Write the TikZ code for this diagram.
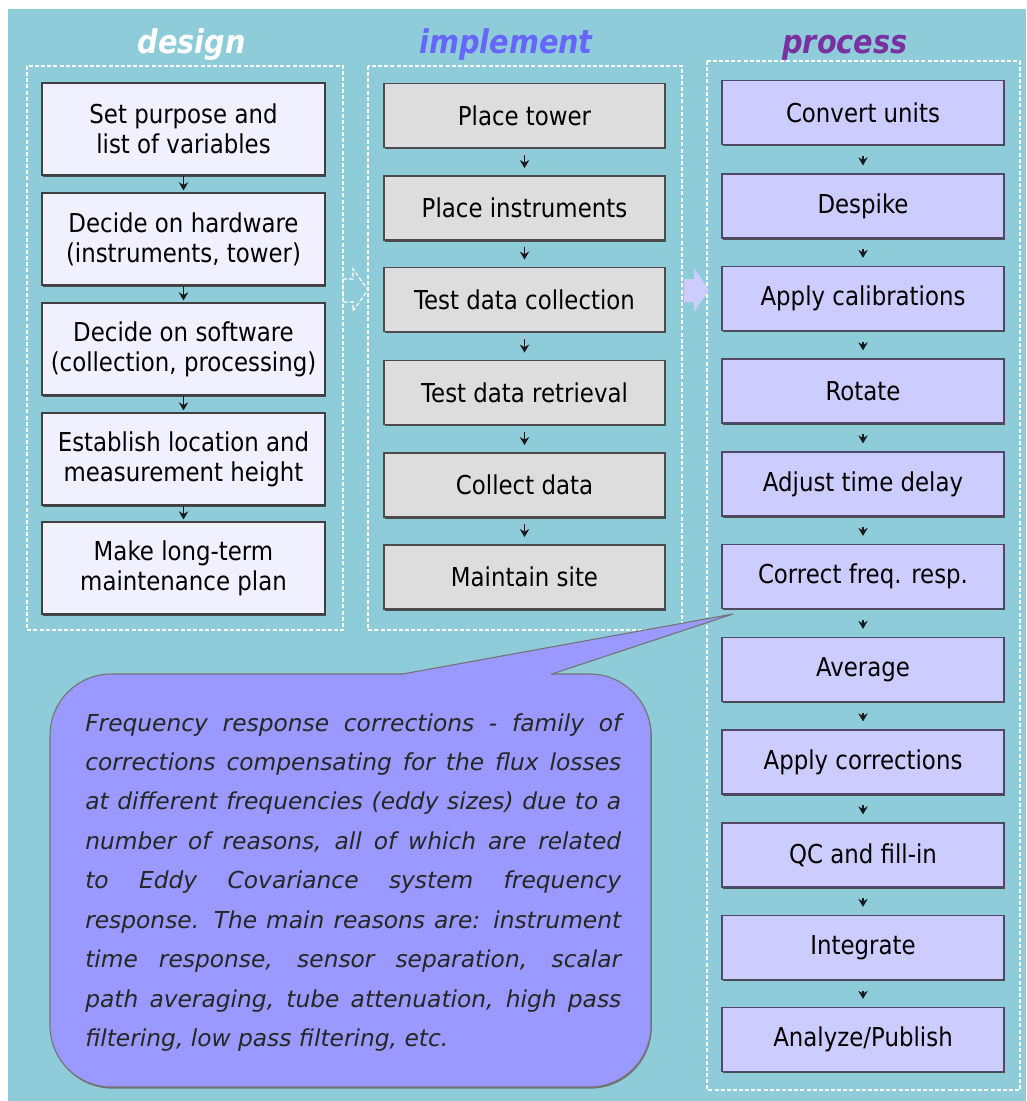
\documentclass[tikz,border=0pt]{standalone}
\usepackage{fontspec}
\setmainfont{DejaVu Sans}[FakeStretch=0.88]
\newfontfamily\callfont{DejaVu Sans}
\usetikzlibrary{arrows.meta,shadows}
\definecolor{bg}{RGB}{143,204,217}
\definecolor{dfill}{RGB}{240,240,255}
\definecolor{ifill}{RGB}{221,221,221}
\definecolor{pfill}{RGB}{204,204,255}
\definecolor{pborder}{RGB}{80,72,104}
\definecolor{cfill}{RGB}{153,153,255}
\definecolor{implcol}{RGB}{102,102,255}
\definecolor{proccol}{RGB}{122,48,160}
\newcommand\myboxfont{\fontsize{19.5pt}{22.5pt}\selectfont}
\newcommand\myheadfont{\fontsize{24.5pt}{28pt}\selectfont\bfseries\itshape}
\newcommand\jl[1]{\hbox to 402pt{#1}}
\tikzset{
  basebox/.style={rectangle, inner sep=0pt, line width=0.9pt, align=center,
    font=\myboxfont, text=black,
    drop shadow={shadow xshift=1.1pt, shadow yshift=-1.4pt, opacity=1, fill=black!70}},
  dbox/.style={basebox, draw=black!75, fill=dfill, minimum width=212.25pt, minimum height=69pt},
  ibox/.style={basebox, draw=black!70, fill=ifill, minimum width=210.75pt, minimum height=48pt},
  pbox/.style={basebox, draw=pborder, fill=pfill, minimum width=211.5pt, minimum height=48pt},
  frame/.style={draw=white, line width=0.9pt, dash pattern=on 3pt off 1.6pt},
  flow/.style={-{Stealth[length=6pt,width=7pt]}, line width=1.3pt, black!90},
  head/.style={anchor=base, inner sep=0pt, font=\myheadfont},
}
\begin{document}
\begin{tikzpicture}[x=0.75pt,y=-0.75pt]
\useasboundingbox (0,0) rectangle (1026,1101);
\fill[bg] (8,9) rectangle (1026,1101);

% frames
\draw[frame] (27,66) rectangle (343,630);
\draw[frame] (368,66) rectangle (682,630);
\draw[frame] (707,61) rectangle (1020,1090);

% headers
\node[head, text=white] (hd) at (191.5,53) {design};
\node[head, text=implcol] (hi) at (506,53) {implement};
\node[head, text=proccol] (hp) at (845,53) {process};

% column arrows
\draw[frame] (343,279) -- (353,279) -- (353,269) -- (368,290) -- (353,311) -- (353,302) -- (343,302) -- cycle;
\fill[pfill] (684,279) -- (694,279) -- (694,268) -- (709,290) -- (694,312) -- (694,302) -- (684,302) -- cycle;

% design
\node[dbox] (d1) at (183.5,129) {Set purpose and\\list of variables};
\node[dbox] (d2) at (183.5,239) {Decide on hardware\\(instruments, tower)};
\node[dbox] (d3) at (183.5,349) {Decide on software\\(collection, processing)};
\node[dbox] (d4) at (183.5,459) {Establish location and\\measurement height};
\node[dbox] (d5) at (183.5,568) {Make long-term\\maintenance plan};
\foreach \a/\b in {d1/d2,d2/d3,d3/d4,d4/d5}
  \draw[flow, shorten <=0.5pt, shorten >=1.5pt] (\a) -- (\b);

% implement
\node[ibox] (i1) at (524.5,115.5) {Place tower};
\node[ibox] (i2) at (524.5,208) {Place instruments};
\node[ibox] (i3) at (524.5,299.5) {Test data collection};
\node[ibox] (i4) at (524.5,392.5) {Test data retrieval};
\node[ibox] (i5) at (524.5,485) {Collect data};
\node[ibox] (i6) at (524.5,577) {Maintain site};
\foreach \a/\b in {i1/i2,i2/i3,i3/i4,i4/i5,i5/i6}
  \draw[flow, shorten <=5pt, shorten >=5.5pt] (\a) -- (\b);

% process
\node[pbox] (p1) at (863,112.5) {Convert units};
\node[pbox] (p2) at (863,206) {Despike};
\node[pbox] (p3) at (863,298.5) {Apply calibrations};
\node[pbox] (p4) at (863,391) {Rotate};
\node[pbox] (p5) at (863,484) {Adjust time delay};
\node[pbox] (p6) at (863,576.5) {Correct freq. resp.};
\node[pbox] (p7) at (863,669.5) {Average};
\node[pbox] (p8) at (863,762) {Apply corrections};
\node[pbox] (p9) at (863,855) {QC and fill-in};
\node[pbox] (p10) at (863,947.5) {Integrate};
\node[pbox] (p11) at (863,1039.5) {Analyze/Publish};
\foreach \a/\b in {p1/p2,p2/p3,p3/p4,p4/p5,p5/p6,p6/p7,p7/p8,p8/p9,p9/p10,p10/p11}
  \draw[flow, shorten <=8pt, shorten >=6pt] (\a) -- (\b);

% callout
\node[rectangle, rounded corners=46pt, draw=black!55, line width=0.8pt, fill=cfill,
  minimum width=450.75pt, minimum height=309.75pt, inner sep=0pt,
  drop shadow={shadow xshift=0.6pt, shadow yshift=-1.2pt, opacity=1, fill=black!55}]
  (cb) at (350.5,880.5) {};
\coordinate (tip) at (733,614);
\fill[cfill] (401,674) -- (tip) -- (551,674) -- (551,676.5) -- (401,676.5) -- cycle;
\draw[black!55, line width=0.8pt] (401,674.3) -- (tip) -- (551,674.3);
\node[anchor=base west, inner sep=0pt, text=black!85] (ct) at (85,731)
 {\vtop{\callfont\itshape\fontsize{17.5pt}{29.6pt}\selectfont\baselineskip=29.6pt
 \jl{Frequency response corrections - family of}
 \jl{corrections compensating for the flux losses}
 \jl{at different frequencies (eddy sizes) due to a}
 \jl{number of reasons, all of which are related}
 \jl{to Eddy Covariance system frequency}
 \jl{response. The main reasons are: instrument}
 \jl{time response, sensor separation, scalar}
 \jl{path averaging, tube attenuation, high pass}
 \hbox{filtering, low pass filtering, etc.}}};
\end{tikzpicture}
\end{document}
